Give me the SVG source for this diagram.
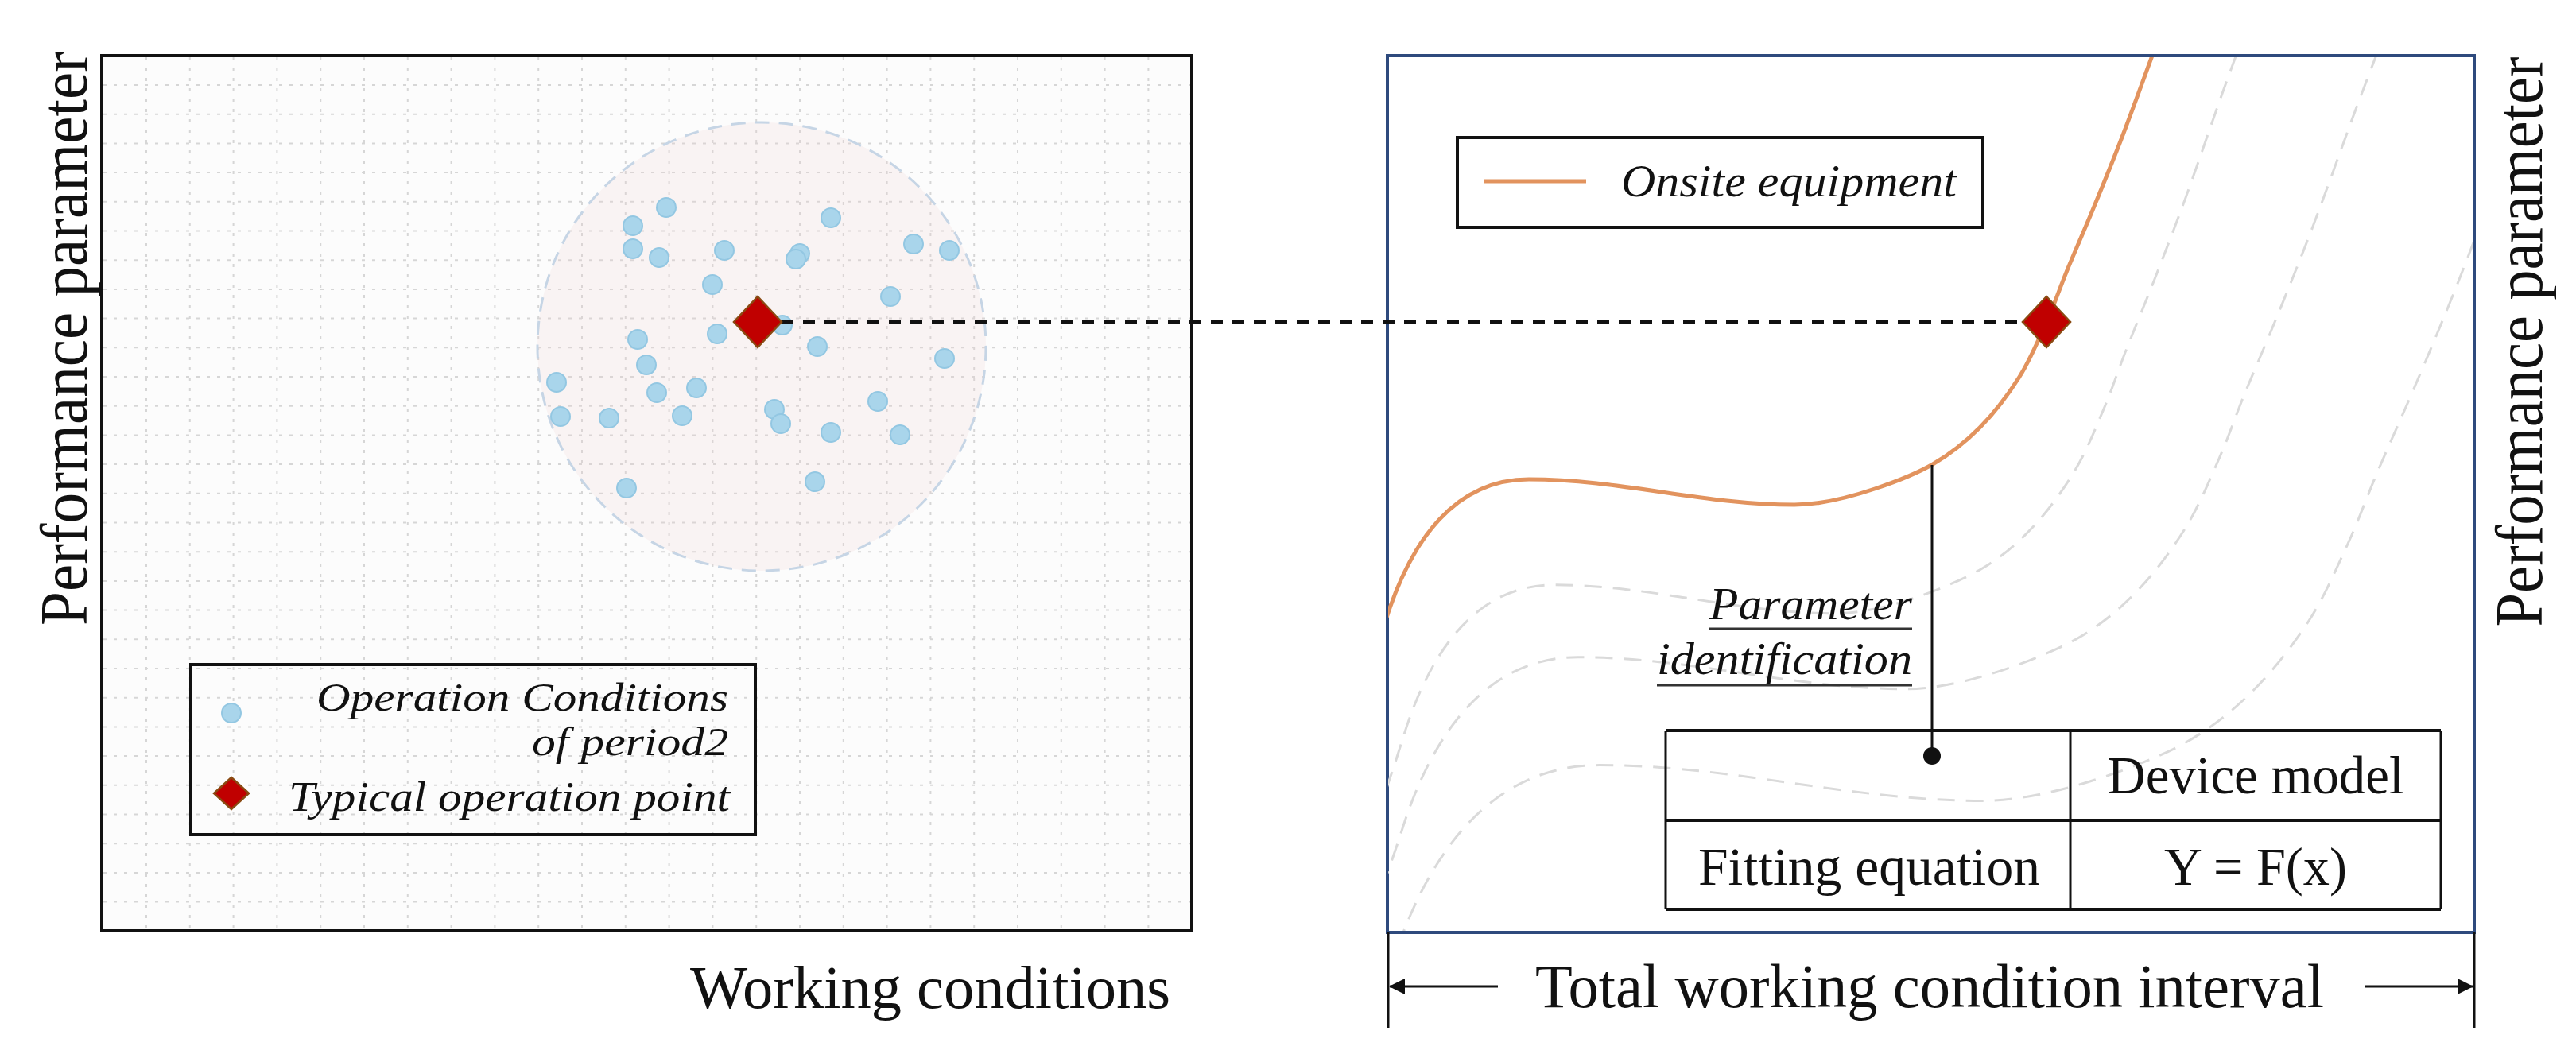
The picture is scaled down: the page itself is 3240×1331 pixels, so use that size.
<svg xmlns="http://www.w3.org/2000/svg" xmlns:xlink="http://www.w3.org/1999/xlink" width="3240" height="1331" viewBox="0 0 3240 1331">
<style>
text{font-family:"Liberation Serif","Times New Roman",serif;fill:#111}
.it{font-style:italic}
.grid{fill:none;stroke:#D6D6D6;stroke-width:2;stroke-dasharray:4 9}
.dot{fill:#A9D5EB;stroke:#93C7E2;stroke-width:2}
.dia{fill:#C00000;stroke:#8A4A12;stroke-width:2.5}
.box{fill:none;stroke:#111;stroke-width:4}
.ghost{fill:none;stroke:#DADADA;stroke-width:3;stroke-dasharray:22 14}
.tbl{stroke:#111;stroke-width:3}
.tblh{stroke:#111;stroke-width:4}
</style>
<defs>
<clipPath id="rclip"><rect x="1746" y="72" width="1364" height="1099"/></clipPath>
<path id="base" fill="none" vector-effect="non-scaling-stroke" d="M1714,862 C1724,835 1736,802 1744,777 C1775,680 1830,603 1923,603 C2040,603 2140,635 2257,635 C2320,635 2407,598 2431,584 C2454.8,570.2 2471.8,556.3 2490,538 C2508.2,519.7 2526,496.2 2540,474 C2554,451.8 2564,427.3 2574,405 C2584,382.7 2590.2,363.8 2600,340 C2609.8,316.2 2621.3,290.3 2633,262 C2644.7,233.7 2657.7,202 2670,170 C2682.3,138 2700.8,86.7 2707,70 C2713,53 2730,10 2745,-30 C2760,-70 2775,-120 2790,-170 C2800,-205 2810,-240 2820,-280"/>
<marker id="arr" viewBox="0 0 20 20" refX="19" refY="10" markerWidth="20" markerHeight="20" markerUnits="userSpaceOnUse" orient="auto"><path d="M0,0 L20,10 L0,20 Z" fill="#111"/></marker>
</defs>
<rect width="3240" height="1331" fill="#fff"/>

<g id="left-panel">
<rect x="128" y="70" width="1371" height="1101" fill="#FCFCFC"/>
<path class="grid" d="M184,72V1169M238.8,72V1169M293.6,72V1169M348.4,72V1169M403.2,72V1169M458,72V1169M512.8,72V1169M567.6,72V1169M622.4,72V1169M677.2,72V1169M732,72V1169M786.8,72V1169M841.6,72V1169M896.4,72V1169M951.2,72V1169M1006,72V1169M1060.8,72V1169M1115.6,72V1169M1170.4,72V1169M1225.2,72V1169M1280,72V1169M1334.8,72V1169M1389.6,72V1169M1444.4,72V1169M130,107H1497M130,143.7H1497M130,180.4H1497M130,217.1H1497M130,253.8H1497M130,290.5H1497M130,327.2H1497M130,363.9H1497M130,400.6H1497M130,437.3H1497M130,474H1497M130,510.7H1497M130,547.4H1497M130,584.1H1497M130,620.8H1497M130,657.5H1497M130,694.2H1497M130,730.9H1497M130,767.6H1497M130,804.3H1497M130,841H1497M130,877.7H1497M130,914.4H1497M130,951.1H1497M130,987.8H1497M130,1024.5H1497M130,1061.2H1497M130,1097.9H1497M130,1134.6H1497"/>
<rect class="box" x="128" y="70" width="1371" height="1101"/>
</g>

<g id="operation-region">
<circle cx="958" cy="436" r="282" fill="#EED3D3" fill-opacity="0.2" stroke="#C6D5E5" stroke-width="3" stroke-dasharray="18 12"/>
<g id="operation-points">
<circle class="dot" cx="838" cy="261" r="12"/>
<circle class="dot" cx="796" cy="284" r="12"/>
<circle class="dot" cx="796" cy="313" r="12"/>
<circle class="dot" cx="829" cy="324" r="12"/>
<circle class="dot" cx="911" cy="315" r="12"/>
<circle class="dot" cx="1045" cy="274" r="12"/>
<circle class="dot" cx="1006" cy="319" r="12"/>
<circle class="dot" cx="1001" cy="326" r="12"/>
<circle class="dot" cx="1149" cy="307" r="12"/>
<circle class="dot" cx="1194" cy="315" r="12"/>
<circle class="dot" cx="896" cy="358" r="12"/>
<circle class="dot" cx="1120" cy="373" r="12"/>
<circle class="dot" cx="984" cy="409" r="12"/>
<circle class="dot" cx="902" cy="420" r="12"/>
<circle class="dot" cx="802" cy="427" r="12"/>
<circle class="dot" cx="1028" cy="436" r="12"/>
<circle class="dot" cx="1188" cy="451" r="12"/>
<circle class="dot" cx="813" cy="459" r="12"/>
<circle class="dot" cx="700" cy="481" r="12"/>
<circle class="dot" cx="876" cy="488" r="12"/>
<circle class="dot" cx="826" cy="494" r="12"/>
<circle class="dot" cx="705" cy="524" r="12"/>
<circle class="dot" cx="766" cy="526" r="12"/>
<circle class="dot" cx="858" cy="523" r="12"/>
<circle class="dot" cx="974" cy="515" r="12"/>
<circle class="dot" cx="982" cy="533" r="12"/>
<circle class="dot" cx="1104" cy="505" r="12"/>
<circle class="dot" cx="1045" cy="544" r="12"/>
<circle class="dot" cx="1132" cy="547" r="12"/>
<circle class="dot" cx="1025" cy="606" r="12"/>
<circle class="dot" cx="788" cy="614" r="12"/>
</g>
</g>

<g id="left-legend">
<rect class="box" x="240" y="836" width="710" height="214"/>
<circle class="dot" cx="291" cy="897" r="12"/>
<polygon class="dia" points="291,978 313,998 291,1018 269,998"/>
<text class="it" x="916" y="894" font-size="50" text-anchor="end" textLength="518" lengthAdjust="spacingAndGlyphs">Operation Conditions</text>
<text class="it" x="916" y="950" font-size="50" text-anchor="end" textLength="247" lengthAdjust="spacingAndGlyphs">of period2</text>
<text class="it" x="918" y="1020" font-size="52" text-anchor="end" textLength="555" lengthAdjust="spacingAndGlyphs">Typical operation point</text>
</g>

<g id="left-axis-labels">
<text x="868" y="1268" font-size="76" textLength="604" lengthAdjust="spacingAndGlyphs">Working conditions</text>
<text transform="translate(109,426) rotate(-90)" font-size="84" text-anchor="middle" textLength="722" lengthAdjust="spacingAndGlyphs">Performance parameter</text>
</g>

<g id="right-panel">
<rect x="1745" y="70" width="1367" height="1103" fill="#fff" stroke="#2E4A7D" stroke-width="4"/>
<g clip-path="url(#rclip)">
<use href="#base" xlink:href="#base" class="ghost" transform="matrix(1.063,0,0,1.12,-90,60.5)"/>
<use href="#base" xlink:href="#base" class="ghost" transform="matrix(1.237,0,0,1.25,-394,73)"/>
<use href="#base" xlink:href="#base" class="ghost" transform="matrix(1.445,0,0,1.4,-767,118.4)"/>
<path id="onsite-curve" fill="none" stroke="#E2935E" stroke-width="5" d="M1744,777 C1775,680 1830,603 1923,603 C2040,603 2140,635 2257,635 C2320,635 2407,598 2431,584 C2454.8,570.2 2471.8,556.3 2490,538 C2508.2,519.7 2526,496.2 2540,474 C2554,451.8 2564,427.3 2574,405 C2584,382.7 2590.2,363.8 2600,340 C2609.8,316.2 2621.3,290.3 2633,262 C2644.7,233.7 2657.7,202 2670,170 C2682.3,138 2700.8,86.7 2707,70"/>
</g>
</g>

<g id="right-legend">
<rect x="1833" y="173" width="661" height="113" fill="#fff" stroke="#111" stroke-width="4"/>
<line x1="1867" y1="228" x2="1995" y2="228" stroke="#E2935E" stroke-width="5"/>
<text class="it" x="2039" y="247" font-size="58" textLength="422" lengthAdjust="spacingAndGlyphs">Onsite equipment</text>
</g>

<g id="param-label">
<text class="it" x="2405" y="779" font-size="56" text-anchor="end" textLength="255" lengthAdjust="spacingAndGlyphs">Parameter</text>
<line x1="2150" y1="791" x2="2405" y2="791" stroke="#333" stroke-width="3"/>
<text class="it" x="2405" y="848" font-size="56" text-anchor="end" textLength="321" lengthAdjust="spacingAndGlyphs">identification</text>
<line x1="2084" y1="862" x2="2405" y2="862" stroke="#333" stroke-width="3"/>
</g>

<g id="model-table">
<line class="tblh" x1="2095" y1="919" x2="3070" y2="919"/>
<line class="tblh" x1="2095" y1="1032" x2="3070" y2="1032"/>
<line class="tblh" x1="2095" y1="1144" x2="3070" y2="1144"/>
<line class="tbl" x1="2095" y1="919" x2="2095" y2="1144"/>
<line class="tbl" x1="2604" y1="919" x2="2604" y2="1144"/>
<line class="tbl" x1="3070" y1="919" x2="3070" y2="1144"/>
<text x="2837" y="998" font-size="67" text-anchor="middle" textLength="373" lengthAdjust="spacingAndGlyphs">Device model</text>
<text x="2351" y="1113" font-size="67" text-anchor="middle" textLength="430" lengthAdjust="spacingAndGlyphs">Fitting equation</text>
<text x="2837" y="1113" font-size="67" text-anchor="middle" textLength="230" lengthAdjust="spacingAndGlyphs">Y = F(x)</text>
</g>

<g id="right-axis-labels">
<text x="1931" y="1267" font-size="78" textLength="992" lengthAdjust="spacingAndGlyphs">Total working condition interval</text>
<text transform="translate(3197,430) rotate(-90)" font-size="84" text-anchor="middle" textLength="717" lengthAdjust="spacingAndGlyphs">Performance parameter</text>
</g>

<g id="connectors">
<line x1="983" y1="405" x2="2544" y2="405" stroke="#111" stroke-width="4" stroke-dasharray="15 12"/>
<line x1="2430" y1="585" x2="2430" y2="951" stroke="#111" stroke-width="3"/>
<circle cx="2430" cy="951" r="11" fill="#111"/>
<line x1="1746" y1="1173" x2="1746" y2="1293" stroke="#111" stroke-width="3"/>
<line x1="3112" y1="1173" x2="3112" y2="1293" stroke="#111" stroke-width="3"/>
<line x1="1884" y1="1241" x2="1748" y2="1241" stroke="#111" stroke-width="3" marker-end="url(#arr)"/>
<line x1="2974" y1="1241" x2="3110" y2="1241" stroke="#111" stroke-width="3" marker-end="url(#arr)"/>
</g>

<g id="typical-point-left"><polygon class="dia" points="953,373 983,405 953,437 923,405"/></g>
<g id="typical-point-right"><polygon class="dia" points="2574,373 2604,405 2574,437 2544,405"/></g>
</svg>
